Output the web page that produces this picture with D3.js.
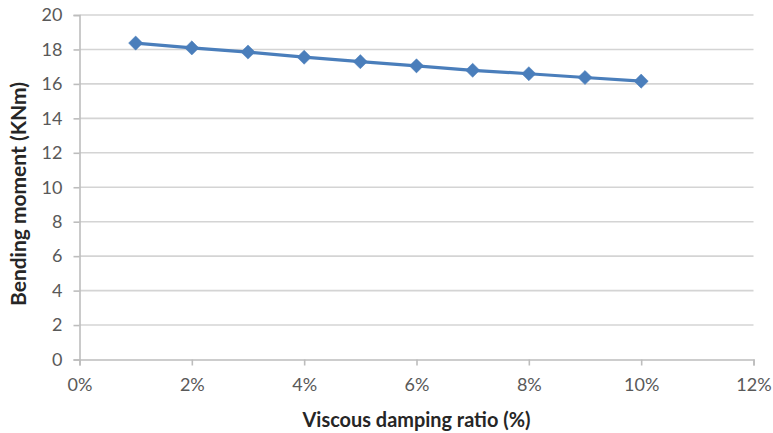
<!DOCTYPE html>
<html>
<head>
<meta charset="utf-8">
<script src="https://cdn.jsdelivr.net/npm/d3@7"></script>
<style>
  html, body { margin: 0; padding: 0; background: #fff; }
  svg { display: block; }
  text { font-family: Lato, "Open Sans", "DejaVu Sans", sans-serif; }
</style>
</head>
<body>
<svg id="chart" width="773" height="433"></svg>
<script>
// Damping ratio (%) and resulting bending moment (kN·m)
const dampingRatio = [1, 2, 3, 4, 5, 6, 7, 8, 9, 10];
const bendingMoment = [18.37, 18.09, 17.85, 17.55, 17.29, 17.05, 16.79, 16.59, 16.37, 16.16];
const xTicks = [0, 2, 4, 6, 8, 10, 12];
const yTicks = [0, 2, 4, 6, 8, 10, 12, 14, 16, 18, 20];
const xTitle = "Viscous damping ratio (%)";
const yTitle = "Bending moment (KNm)";

const svg = d3.select("#chart");
const plot = { left: 79.5, right: 753.5, top: 15, bottom: 359.5 };

const x = d3.scaleLinear().domain([0, 12]).range([plot.left, plot.right]);
const y = d3.scaleLinear().domain([0, 20]).range([plot.bottom, plot.top]);

const series = "#4a7ebb";
const tickColor = "#595959";

// horizontal gridlines
svg.append("g")
  .selectAll("line")
  .data(yTicks.filter(d => d > 0))
  .join("line")
  .attr("x1", plot.left).attr("x2", plot.right)
  .attr("y1", d => y(d)).attr("y2", d => y(d))
  .attr("stroke", "#d4d4d4").attr("stroke-width", 1.6);

// y axis
const yAxis = svg.append("g")
  .attr("transform", `translate(${plot.left},0)`)
  .call(d3.axisLeft(y).tickValues(yTicks).tickSize(6).tickPadding(11).tickFormat(d3.format("d")));
yAxis.select(".domain").attr("stroke", "#bdbdbd").attr("stroke-width", 1.6);
yAxis.selectAll(".tick line").attr("stroke", "#bdbdbd").attr("stroke-width", 1.6);
yAxis.selectAll(".tick text").attr("fill", tickColor).attr("font-size", 18);

// x axis
const xAxis = svg.append("g")
  .attr("transform", `translate(0,${plot.bottom})`)
  .call(d3.axisBottom(x).tickValues(xTicks).tickSize(6).tickPadding(13).tickFormat(d => d + "%"));
xAxis.select(".domain").attr("stroke", "#bdbdbd").attr("stroke-width", 1.6);
xAxis.selectAll(".tick line").attr("stroke", "#bdbdbd").attr("stroke-width", 1.6);
xAxis.selectAll(".tick text").attr("fill", tickColor).attr("font-size", 18);

// axis titles, sized so each spans its intended length
function fitTitle(sel, targetWidth) {
  const w = sel.node().getComputedTextLength();
  const fs = +sel.attr("font-size");
  sel.attr("font-size", (fs * targetWidth / w).toFixed(2));
}

const xt = svg.append("text")
  .attr("x", (plot.left + plot.right) / 2).attr("y", 427)
  .attr("text-anchor", "middle")
  .attr("font-size", 17).attr("font-weight", "bold").attr("fill", "#262626")
  .text(xTitle);
fitTitle(xt, 228);

const yt = svg.append("text")
  .attr("transform", `translate(26,${194}) rotate(-90)`)
  .attr("text-anchor", "middle")
  .attr("font-size", 17).attr("font-weight", "bold").attr("fill", "#262626")
  .text(yTitle);
fitTitle(yt, 224);

// series line
const pts = dampingRatio.map((d, i) => [d, bendingMoment[i]]);
svg.append("path")
  .datum(pts)
  .attr("fill", "none")
  .attr("stroke", series)
  .attr("stroke-width", 3.2)
  .attr("stroke-linejoin", "round")
  .attr("d", d3.line().x(d => x(d[0])).y(d => y(d[1])));

// diamond markers
const diamond = d3.symbol().type(d3.symbolSquare).size(100);
svg.append("g")
  .selectAll("path")
  .data(pts)
  .join("path")
  .attr("transform", d => `translate(${x(d[0])},${y(d[1])}) rotate(45)`)
  .attr("d", diamond)
  .attr("fill", series)
  .attr("stroke", series)
  .attr("stroke-width", 0.5);
</script>
</body>
</html>
